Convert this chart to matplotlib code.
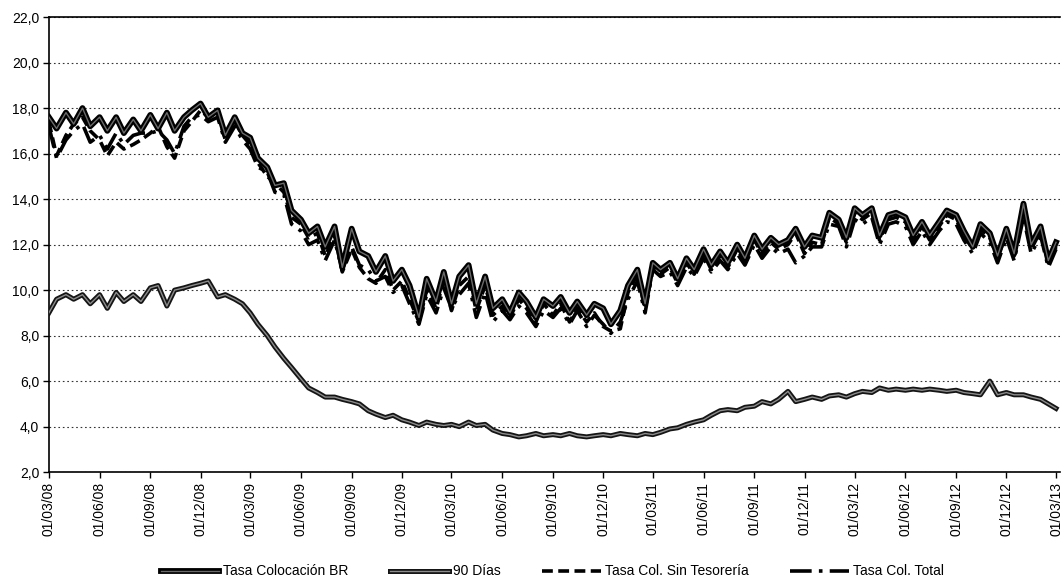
import matplotlib
matplotlib.use('Agg')
import matplotlib.pyplot as plt
import matplotlib.dates as mdates
import matplotlib.patheffects as pe
from matplotlib.ticker import MultipleLocator, FuncFormatter
import pandas as pd

plt.rcParams['font.family'] = ['Liberation Sans', 'DejaVu Sans']

# fechas quincenales, 01/03/08 - 01/03/13
fechas = pd.date_range('2008-03-01', '2013-03-01', freq='SMS')

tasa_br = [
    17.6, 17.1, 17.8, 17.3, 18.0, 17.2, 17.6, 17.0, 17.6, 16.9,
    17.5, 17.0, 17.7, 17.1, 17.8, 17.0, 17.6, 17.9, 18.2, 17.6,
    17.9, 16.8, 17.6, 16.9, 16.7, 15.8, 15.4, 14.6, 14.7, 13.5,
    13.1, 12.5, 12.8, 11.9, 12.8, 11.0, 12.7, 11.7, 11.5, 10.8,
    11.5, 10.4, 10.9, 10.2, 8.8, 10.5, 9.5, 10.8, 9.4, 10.6,
    11.1, 9.4, 10.6, 9.2, 9.6, 9.0, 9.9, 9.5, 8.8, 9.6,
    9.3, 9.7, 9.0, 9.5, 8.9, 9.4, 9.2, 8.5, 9.1, 10.2,
    10.9, 9.4, 11.2, 10.9, 11.2, 10.5, 11.4, 10.9, 11.8, 11.1,
    11.7, 11.2, 12.0, 11.4, 12.4, 11.8, 12.3, 12.0, 12.2, 12.7,
    11.9, 12.4, 12.3, 13.4, 13.1, 12.3, 13.6, 13.3, 13.6, 12.4,
    13.3, 13.4, 13.2, 12.4, 13.0, 12.4, 13.0, 13.5, 13.3, 12.6,
    11.9, 12.9, 12.5, 11.5, 12.7, 11.6, 13.8, 12.0, 12.8, 11.3,
    12.1,
]

dias_90 = [
    9.0, 9.6, 9.8, 9.6, 9.8, 9.4, 9.8, 9.2, 9.9, 9.5,
    9.8, 9.5, 10.1, 10.2, 9.3, 10.0, 10.1, 10.2, 10.3, 10.4,
    9.7, 9.8, 9.6, 9.4, 9.0, 8.5, 8.0, 7.5, 7.0, 6.6,
    6.1, 5.7, 5.5, 5.3, 5.3, 5.2, 5.1, 5.0, 4.7, 4.55,
    4.4, 4.5, 4.3, 4.2, 4.05, 4.2, 4.1, 4.05, 4.1, 4.0,
    4.2, 4.05, 4.1, 3.85, 3.7, 3.65, 3.55, 3.6, 3.7, 3.6,
    3.65, 3.6, 3.7, 3.6, 3.55, 3.6, 3.65, 3.6, 3.7, 3.65,
    3.6, 3.7, 3.65, 3.75, 3.9, 3.95, 4.1, 4.2, 4.3, 4.5,
    4.7, 4.75, 4.7, 4.85, 4.9, 5.1, 5.0, 5.2, 5.55, 5.1,
    5.2, 5.3, 5.2, 5.35, 5.4, 5.3, 5.45, 5.55, 5.5, 5.7,
    5.6, 5.65, 5.6, 5.65, 5.6, 5.65, 5.6, 5.55, 5.6, 5.5,
    5.45, 5.4, 6.0, 5.4, 5.5, 5.4, 5.4, 5.3, 5.2, 5.0,
    4.8,
]

sin_tesoreria = [
    17.4, 15.9, 16.8, 17.3, 17.6, 17.0, 16.6, 15.9, 16.5, 16.2,
    16.4, 16.6, 16.9, 17.2, 16.3, 15.8, 17.0, 17.4, 17.9, 17.6,
    17.8, 16.6, 17.4, 16.8, 16.4, 15.6, 15.0, 14.7, 14.3, 13.2,
    12.9, 12.3, 12.5, 11.5, 12.4, 10.8, 11.8, 11.0, 10.5, 10.3,
    10.9, 10.0, 10.4, 9.6, 8.6, 10.0, 9.2, 10.4, 9.1, 10.2,
    10.6, 9.1, 10.2, 8.9, 9.3, 8.8, 9.6, 9.2, 8.6, 9.4,
    8.9, 9.4, 8.6, 9.2, 8.6, 9.0, 8.4, 8.2, 8.3, 9.9,
    10.7, 9.2, 11.0, 10.7, 11.0, 10.3, 11.2, 10.7, 11.6, 10.9,
    11.5, 11.0, 11.8, 11.2, 12.2, 11.6, 12.1, 11.8, 12.0, 12.5,
    11.6, 12.1, 12.0, 13.2, 12.9, 12.1, 13.4, 13.1, 13.4, 12.2,
    13.1, 13.2, 13.0, 12.2, 12.8, 12.2, 12.8, 13.3, 13.1, 12.4,
    11.8, 12.7, 12.3, 11.4, 12.5, 11.5, 13.5, 11.8, 12.6, 11.2,
    11.9,
]

col_total = [
    17.2, 15.8, 16.6, 17.0, 17.3, 16.5, 16.8, 16.2, 16.9, 16.4,
    16.8, 16.9, 16.9, 17.0, 16.6, 16.0, 17.2, 17.6, 17.7, 17.4,
    17.6, 16.5, 17.2, 16.6, 16.2, 15.4, 15.2, 14.3, 14.2, 12.9,
    12.6, 12.0, 12.2, 11.3, 12.2, 10.9, 11.9, 11.1, 10.9, 10.4,
    10.6, 9.9, 10.2, 9.4, 8.5, 9.8, 9.0, 10.1, 9.2, 9.8,
    10.3, 8.8, 9.9, 8.6, 9.1, 8.7, 9.3, 9.0, 8.4, 9.1,
    8.8, 9.2, 8.5, 9.1, 8.4, 8.9, 8.5, 8.1, 8.6, 9.6,
    10.4, 9.0, 10.9, 10.6, 10.8, 10.2, 11.0, 10.6, 11.4, 10.8,
    11.3, 10.9, 11.6, 11.1, 12.0, 11.4, 11.9, 11.6, 11.8, 11.2,
    11.5, 11.9, 11.9, 12.9, 12.8, 11.9, 13.1, 12.9, 13.2, 12.0,
    12.9, 13.0, 12.8, 12.0, 12.6, 12.0, 12.6, 13.0, 12.9, 12.2,
    11.6, 12.5, 12.1, 11.2, 12.3, 11.3, 13.2, 11.6, 12.4, 11.0,
    11.8,
]


fig = plt.figure(figsize=(10.62, 5.88), dpi=100)
ax = fig.add_axes([0.046, 0.197, 0.952, 0.774])

ax.plot(fechas, sin_tesoreria, color='black', lw=2.6, ls=(0, (3, 1.5)),
        label='Tasa Col. Sin Tesorería', zorder=2)
ax.plot(fechas, col_total, color='black', lw=2.6, ls=(0, (6, 2, 1, 2)),
        label='Tasa Col. Total', zorder=2)
ax.plot(fechas, dias_90, color='#8c8c8c', lw=1.0, label='90 Días', zorder=3,
        path_effects=[pe.Stroke(linewidth=3.6, foreground='#151515'), pe.Normal()])
ax.plot(fechas, tasa_br, color='#6a6a6a', lw=1.0, label='Tasa Colocación BR', zorder=4,
        path_effects=[pe.Stroke(linewidth=4.2, foreground='black'), pe.Normal()])

ax.set_ylim(2, 22)
ax.set_xlim(pd.Timestamp('2008-03-01'), pd.Timestamp('2013-03-08'))
ax.yaxis.set_major_locator(MultipleLocator(2))
ax.yaxis.set_major_formatter(FuncFormatter(lambda v, p: f'{v:.1f}'.replace('.', ',')))
ax.xaxis.set_major_locator(mdates.MonthLocator(bymonth=(3, 6, 9, 12), bymonthday=1))
ax.xaxis.set_major_formatter(mdates.DateFormatter('%d/%m/%y'))
plt.setp(ax.get_xticklabels(), rotation=90, fontsize=10)
plt.setp(ax.get_yticklabels(), fontsize=10)
ax.tick_params(axis='both', direction='out', length=4, width=1, color='black', pad=3)

ax.grid(axis='y', color='#333333', ls=(0, (1.5, 2.5)), lw=0.8)
ax.set_axisbelow(True)
ax.spines['right'].set_visible(False)
for side in ('top', 'left', 'bottom'):
    ax.spines[side].set_linewidth(1.2)

handles, labels = ax.get_legend_handles_labels()
order = [3, 2, 0, 1]
fig.legend([handles[i] for i in order], [labels[i] for i in order],
           loc='lower center', bbox_to_anchor=(0.52, -0.005), ncol=4, frameon=False,
           fontsize=10, handlelength=4.2, columnspacing=3.0, handletextpad=0.3)

fig.savefig('out.png', dpi=100)
